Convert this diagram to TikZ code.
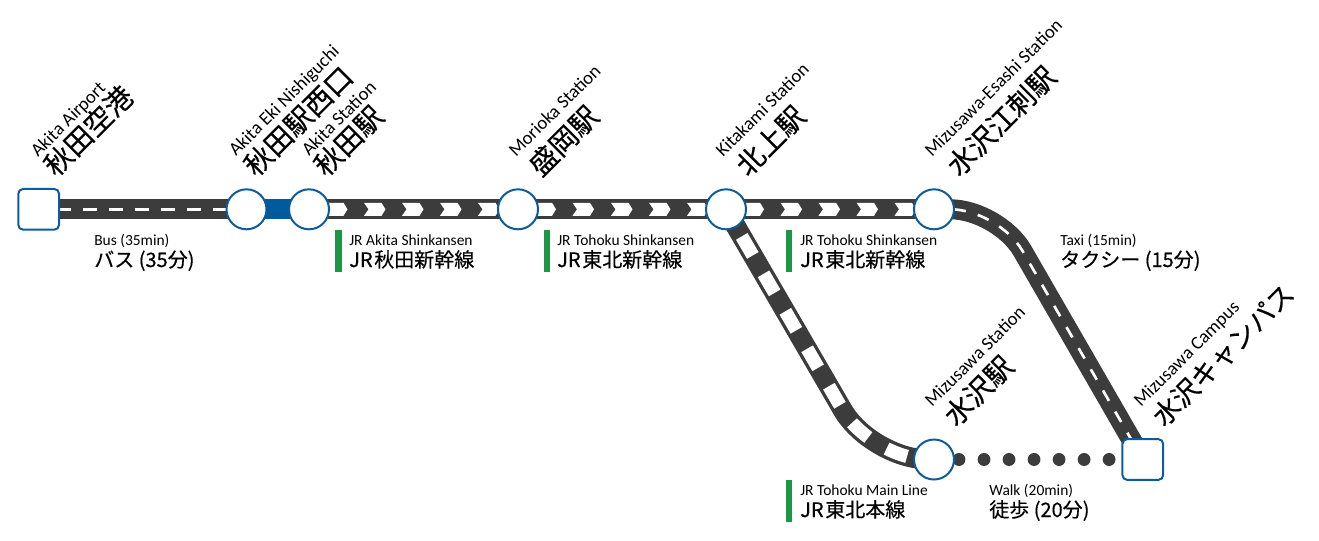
\documentclass[tikz,border=0pt]{standalone}
\usepackage{fontspec}
\setmainfont{Carlito}
\newfontfamily\jpfont[FakeBold=0.35]{Noto Sans CJK JP}
\newcommand{\enfont}{\fontsize{11.6pt}{12pt}\selectfont}
\newcommand{\stenfont}{\fontsize{14pt}{15pt}\selectfont}
\newcommand{\stjpfont}{\jpfont\fontsize{21pt}{22pt}\selectfont}
\newcommand{\rtjpfont}{\jpfont\fontsize{15pt}{16pt}\selectfont}
\definecolor{track}{HTML}{3C3C3C}
\definecolor{stblue}{HTML}{0B5C9E}
\definecolor{linkblue}{HTML}{005A9E}
\definecolor{bargreen}{HTML}{1F9645}
\tikzset{
  x=0.75pt,y=-0.75pt,
  stcircle/.style={circle,draw=stblue,fill=white,line width=1.5pt,minimum size=30pt,inner sep=0pt,outer sep=0pt},
  stsquare/.style={rectangle,rounded corners=3.5pt,draw=stblue,fill=white,line width=1.5pt,minimum size=30.5pt,inner sep=0pt,outer sep=0pt},
  road/.style={draw=track,line width=15pt},
  whitedash/.style={draw=white,line width=2pt},
  tie/.style={draw=white,line width=10pt},
  dots/.style={draw=track,line width=9.6pt,line cap=round,dash pattern=on 0.01pt off 18.75pt},
  chev/.style={fill=white,draw=none},
  ensmall/.style={anchor=base west,inner sep=0pt,font=\enfont},
  jpsmall/.style={anchor=base west,inner sep=0pt,font=\rtjpfont},
  enlabel/.style={anchor=base west,inner sep=0pt,rotate=45,font=\stenfont},
  jplabel/.style={anchor=base west,inner sep=0pt,rotate=45,font=\stjpfont},
  greenbar/.style={fill=bargreen,draw=none},
}
\newcommand{\chevron}[1]{%
  \fill[chev] (#1,202.8) -- (#1+17.5,202.8) -- (#1+21.5,209.3) -- (#1+17.5,215.8) -- (#1,215.8) -- (#1+4.5,209.3) -- cycle;}
\newcommand{\jrsp}{\hspace{1.2pt}}
\begin{document}
\begin{tikzpicture}
\useasboundingbox (0,0) rectangle (1319,540);
% stations
\coordinate (pAir) at (38.7,209.3);
\coordinate (pNis) at (246.5,209.3);
\coordinate (pAki) at (309,209.3);
\coordinate (pMor) at (518,209.3);
\coordinate (pKit) at (726,209.3);
\coordinate (pEsa) at (934,209.3);
\coordinate (pMiz) at (934,459.5);
\coordinate (pCam) at (1142.8,459.5);
\coordinate (bendA) at (871.5,459.5);
\coordinate (bendB) at (998.5,209.3);
\coordinate (busStart) at (57.3,209.3);
% links
\draw[road] (pAir) -- (pNis);
\draw[whitedash,dash pattern=on 10.1pt off 9.4pt] (busStart) -- (pNis);
\draw[draw=linkblue,line width=15pt] (pNis) -- (pAki);
\draw[road] (pAki) -- (pMor);
\draw[road] (pMor) -- (pKit);
\draw[road] (pKit) -- (pEsa);
\foreach \L in {326,364,402,440,478,534.5,572.5,611,649,687,742.5,780.5,818.5,856.5,894.5} {\chevron{\L}}
\draw[road,rounded corners=43pt] (pKit) -- (bendA) -- (pMiz);
\draw[tie,rounded corners=43pt,dash pattern=on 16.5pt off 16pt,dash phase=9pt] (pKit) -- (bendA) -- (pMiz);
\draw[road,rounded corners=36pt] (pEsa) -- (bendB) -- (pCam);
\draw[whitedash,rounded corners=36pt,dash pattern=on 9pt off 9.3pt,dash phase=3.3pt] (pEsa) -- (bendB) -- (pCam);
\draw[dots] (pMiz) -- (pCam);
% station nodes
\node[stsquare] (air) at (pAir) {};
\node[stcircle] (nis) at (pNis) {};
\node[stcircle] (aki) at (pAki) {};
\node[stcircle] (mor) at (pMor) {};
\node[stcircle] (kit) at (pKit) {};
\node[stcircle] (esa) at (pEsa) {};
\node[stcircle] (miz) at (pMiz) {};
\node[stsquare] (cam) at (pCam) {};
% station labels
\node[enlabel] (lAirE) at (38,158) {Akita Airport};
\node[jplabel] (lAirJ) at (56,178) {秋田空港};
\node[enlabel] (lNisE) at (236,157) {Akita Eki Nishiguchi};
\node[jplabel] (lNisJ) at (256,178) {秋田駅西口};
\node[enlabel] (lAkiE) at (309,157) {Akita Station};
\node[jplabel] (lAkiJ) at (326,178) {秋田駅};
\node[enlabel] (lMorE) at (516,158) {Morioka Station};
\node[jplabel] (lMorJ) at (541,178) {盛岡駅};
\node[enlabel] (lKitE) at (723,158) {Kitakami Station};
\node[jplabel] (lKitJ) at (748,178) {北上駅};
\node[enlabel] (lEsaE) at (932,158) {Mizusawa-Esashi Station};
\node[jplabel] (lEsaJ) at (959,178) {水沢江刺駅};
\node[enlabel] (lMizE) at (932,408) {Mizusawa Station};
\node[jplabel] (lMizJ) at (956,428) {水沢駅};
\node[enlabel] (lCamE) at (1141,408) {Mizusawa Campus};
\node[jplabel,font=\jpfont\fontsize{20pt}{21pt}\selectfont] (lCamJ) at (1164,428) {水沢キャンパス};
% route labels
\node[ensmall] (rBusE) at (94,245) {Bus (35min)};
\node[jpsmall] (rBusJ) at (94,267) {バス (35分)};
\fill[greenbar] (335,230) rectangle (342,272);
\node[ensmall] (rAkE) at (349,245) {JR Akita Shinkansen};
\node[jpsmall] (rAkJ) at (349,267) {JR\jrsp 秋田新幹線};
\fill[greenbar] (544,230) rectangle (550,272);
\node[ensmall] (rTo1E) at (557,245) {JR Tohoku Shinkansen};
\node[jpsmall] (rTo1J) at (557,267) {JR\jrsp 東北新幹線};
\fill[greenbar] (786,230) rectangle (792,272);
\node[ensmall] (rTo2E) at (800,245) {JR Tohoku Shinkansen};
\node[jpsmall] (rTo2J) at (800,267) {JR\jrsp 東北新幹線};
\node[ensmall] (rTaxE) at (1060,245) {Taxi (15min)};
\node[jpsmall] (rTaxJ) at (1060,267) {タクシー (15分)};
\fill[greenbar] (786,480) rectangle (792,522);
\node[ensmall] (rMainE) at (800,495) {JR Tohoku Main Line};
\node[jpsmall] (rMainJ) at (800,517) {JR\jrsp 東北本線};
\node[ensmall] (rWalkE) at (989,495) {Walk (20min)};
\node[jpsmall] (rWalkJ) at (989,517) {徒歩 (20分)};
\end{tikzpicture}
\end{document}
